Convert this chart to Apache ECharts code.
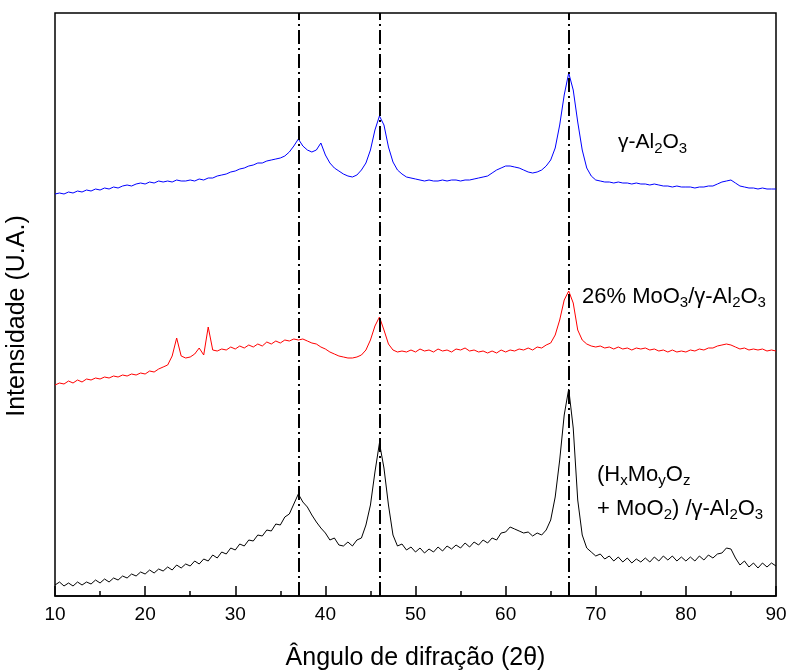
<!DOCTYPE html>
<html><head><meta charset="utf-8">
<script src="https://cdn.jsdelivr.net/npm/echarts@6/dist/echarts.min.js"></script>
<style>html,body{margin:0;padding:0;background:#fff}#c{width:791px;height:671px}</style>
</head><body><div id="c"></div>
<script>
// 2θ sampling grid (degrees), 0.5° step from 10 to 90
const angleStart = 10, angleStep = 0.5, angleCount = 161;
const angles = Array.from({length: angleCount}, (_, i) => angleStart + i * angleStep);

// γ-Al2O3 (blue, top)
const alumina = [
402,403,402,404,403,405,404,406,405,407,406,408,407,409,408,410,411,410,412,413,
412,414,413,415,414,415,414,416,415,415,416,415,417,416,418,418,420,421,422,424,
425,427,428,430,431,433,433,435,436,437,438,440,444,450,457,450,446,444,446,453,
441,433,428,425,422,420,419,421,426,433,446,466,480,471,449,434,426,422,419,418,
417,416,415,416,415,415,416,415,416,416,415,416,416,417,418,419,420,423,426,428,
430,430,429,428,426,424,423,424,426,430,436,448,471,501,523,506,474,446,428,420,
416,415,414,414,413,414,413,413,412,413,412,412,411,412,411,410,410,409,410,409,
409,409,408,409,409,410,410,412,414,415,416,413,410,409,408,408,407,408,407,407,
407];

// 26% MoO3/γ-Al2O3 (red, middle)
const moo3 = [
211,213,212,215,213,216,214,217,216,218,217,219,218,220,219,221,220,222,221,223,
222,225,224,227,229,231,240,258,240,238,239,242,248,241,269,246,245,247,246,249,
247,250,248,251,249,252,250,254,252,255,253,256,255,257,256,257,255,253,252,249,
247,244,242,240,239,238,238,239,241,246,256,270,279,266,252,246,244,245,244,246,
244,247,245,246,244,247,245,246,244,247,246,248,245,246,244,245,243,245,243,246,
244,246,245,247,246,248,246,249,248,251,253,261,276,296,305,293,266,256,252,250,
249,250,248,249,247,249,247,248,246,248,247,248,246,247,245,246,244,246,244,245,
244,246,245,247,246,248,248,250,251,252,251,249,247,248,246,247,246,247,245,246,
245];

// (HxMoyOz + MoO2)/γ-Al2O3 (black, bottom)
const reduced = [
11,14,10,13,10,14,11,14,12,16,13,17,14,18,16,20,18,22,20,24,
22,26,23,27,25,29,26,31,28,32,30,35,32,37,35,41,38,44,42,48,
46,52,50,56,55,61,60,66,65,72,71,79,82,92,102,94,89,81,74,68,
63,56,58,51,50,54,50,56,58,71,91,124,153,128,91,61,50,52,46,49,
44,48,43,47,44,49,45,50,47,51,48,53,49,54,51,56,53,58,56,63,
64,69,67,65,63,64,60,63,61,66,76,99,136,181,207,168,96,61,48,44,
40,42,37,40,35,39,34,38,33,37,34,38,34,39,35,40,36,40,35,39,
35,39,35,40,36,41,38,42,43,48,47,38,31,35,29,33,28,33,29,33,
30];

// reference angles (dash-dot lines)
const refAngles = [37, 46, 67];

// x axis ticks
const xMin = 10, xMax = 90, xInterval = 10, xMinorInterval = 5;

const pairs = arr => arr.map((v, i) => [angles[i], v]);

const FONT = '"Liberation Sans", Arial, sans-serif';
const subStyle = {fontSize: 15, fontFamily: FONT, fill: '#000', padding: [12, 0, 0, 0]};

const chart = echarts.init(document.getElementById('c'), null, {renderer: 'canvas'});
chart.setOption({
  animation: false,
  backgroundColor: '#fff',
  grid: {left: 55, right: 15, top: 13, bottom: 75, outerBoundsMode: 'none', containLabel: false,
         show: true, borderColor: '#000', borderWidth: 1.5, backgroundColor: 'transparent'},
  xAxis: [{
    type: 'value', min: xMin, max: xMax, interval: xInterval,
    name: 'Ângulo de difração (2θ)', nameLocation: 'middle', nameGap: 50,
    nameTextStyle: {fontSize: 25, fontFamily: FONT, color: '#000'},
    axisLine: {show: true, lineStyle: {color: '#000', width: 1.5}},
    axisTick: {show: true, inside: true, length: 10, lineStyle: {color: '#000', width: 1.5}},
    axisLabel: {fontSize: 19, fontFamily: FONT, color: '#000', margin: 9},
    splitLine: {show: false}
  }, {
    type: 'value', position: 'bottom', min: xMin, max: xMax, interval: xMinorInterval,
    axisLine: {show: false},
    axisTick: {show: true, inside: true, length: 5, lineStyle: {color: '#000', width: 1.5}},
    axisLabel: {show: false}, splitLine: {show: false}
  }],
  yAxis: {
    type: 'value', min: 0, max: 583,
    axisLine: {show: false}, axisTick: {show: false}, axisLabel: {show: false}, splitLine: {show: false}
  },
  series: [
    {type: 'line', data: pairs(alumina), showSymbol: false, symbol: 'none', lineStyle: {color: '#0000ff', width: 1}, itemStyle: {color: '#0000ff'}, z: 3,
     markLine: {silent: true, symbol: 'none', label: {show: false},
       lineStyle: {color: '#000', width: 2, type: [14, 4, 2, 4]},
       data: refAngles.map(a => ({xAxis: a})), z: 5}},
    {type: 'line', data: pairs(moo3), showSymbol: false, symbol: 'none', lineStyle: {color: '#ff0000', width: 1}, itemStyle: {color: '#ff0000'}, z: 3},
    {type: 'line', data: pairs(reduced), showSymbol: false, symbol: 'none', lineStyle: {color: '#000', width: 1}, itemStyle: {color: '#000'}, z: 3}
  ],
  graphic: [
    {type: 'text', x: 17, y: 316, rotation: Math.PI / 2,
     style: {text: 'Intensidade (U.A.)', font: '25px ' + FONT, fill: '#000', align: 'center', verticalAlign: 'middle'}},
    {type: 'text', left: 618, top: 132, style: {text: 'γ-Al{s|2}O{s|3}', font: '21px ' + FONT, fill: '#000', rich: {s: subStyle}}},
    {type: 'text', left: 582, top: 286, style: {text: '26% MoO{s|3}/γ-Al{s|2}O{s|3}', font: '22px ' + FONT, fill: '#000', rich: {s: subStyle}}},
    {type: 'text', left: 597, top: 464, style: {text: '(H{s|x}Mo{s|y}O{s|z}', font: '22px ' + FONT, fill: '#000', rich: {s: subStyle}}},
    {type: 'text', left: 597, top: 498, style: {text: '+ MoO{s|2}) /γ-Al{s|2}O{s|3}', font: '22px ' + FONT, fill: '#000', rich: {s: subStyle}}}
  ]
});
</script></body></html>
